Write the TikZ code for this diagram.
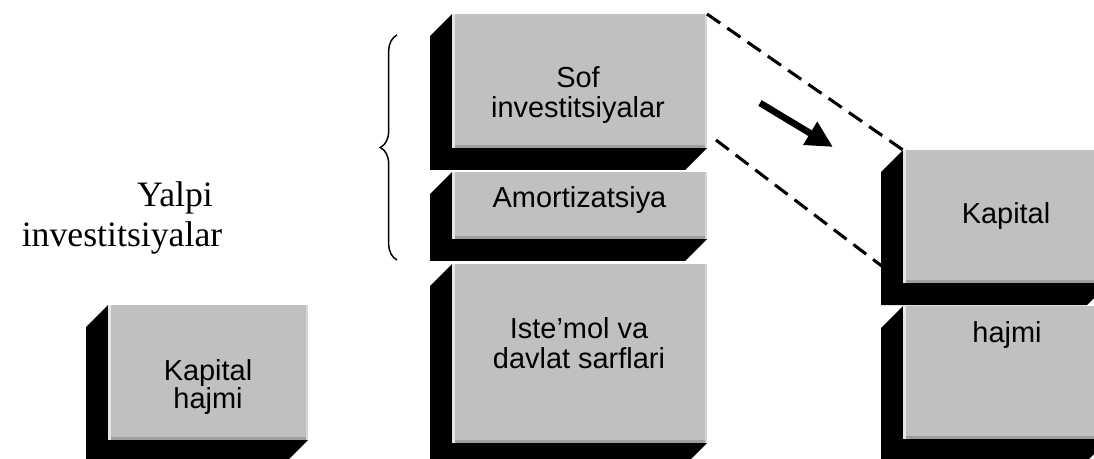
\documentclass[tikz,border=0pt]{standalone}
\usepackage{fontspec}
\setmainfont{Liberation Serif}
\newfontfamily\arialf{Liberation Sans}
\usetikzlibrary{calc,arrows.meta,decorations.pathreplacing}
\definecolor{facegray}{HTML}{C0C0C0}
\definecolor{edgelight}{HTML}{E6E6E6}
\definecolor{edgeright}{HTML}{D6D6D6}
\definecolor{edgedark}{HTML}{9E9E9E}
\newcommand\bevbox[1]{%
  \fill[black] (#1.north west) -- ++(-22,22) -- ($(#1.south west)+(-22,22)$)
     -- ($(#1.south east)+(-22,22)$) -- (#1.south east) -- cycle;
  \fill[facegray] (#1.south west) rectangle (#1.north east);
  \fill[edgelight] (#1.north west) rectangle ($(#1.south west)+(3,0)$);
  \fill[edgeright] (#1.north east) rectangle ($(#1.south east)+(-2,0)$);
  \fill[edgedark] ($(#1.south west)+(3,0)$) rectangle ($(#1.south east)+(-2,-3)$);
}
\tikzset{
  boxshape/.style={rectangle,inner sep=0pt,outer sep=0pt},
  boxtext/.style={font=\arialf\fontsize{21.7}{26}\selectfont,anchor=base,inner sep=0pt},
  sidetext/.style={font=\fontsize{26.8}{31}\selectfont,anchor=base,inner sep=0pt},
  dashline/.style={line width=2.3pt,dash pattern=on 12pt off 6.5pt},
  bigarrow/.style={line width=5pt,-{Triangle[length=20pt,width=19pt]}},
}
\begin{document}
\begin{tikzpicture}[x=0.75pt,y=-0.75pt]
\useasboundingbox (0,0) rectangle (1094,459);
\clip (0,0) rectangle (1094,459);
% box frames
\path node[boxshape,minimum width=150pt,minimum height=101.25pt] (kl) at (208,372.5) {};
\path node[boxshape,minimum width=191.25pt,minimum height=100.5pt] (sof) at (579.5,81) {};
\path node[boxshape,minimum width=191.25pt,minimum height=50.25pt] (amo) at (579.5,205.5) {};
\path node[boxshape,minimum width=191.25pt,minimum height=134.25pt] (ist) at (579.5,353.5) {};
\path node[boxshape,minimum width=154.5pt,minimum height=99.75pt] (kap) at (1006,216.5) {};
\path node[boxshape,minimum width=154.5pt,minimum height=99.75pt] (haj) at (1006,372.5) {};
\bevbox{kl}
\bevbox{sof}
\bevbox{amo}
\bevbox{ist}
\bevbox{kap}
\bevbox{haj}
% box texts
\node[boxtext] (klA) at (208,380) {Kapital};
\node[boxtext] (klB) at (208,408) {hajmi};
\node[boxtext] (sofA) at (578,88) {Sof};
\node[boxtext] (sofB) at (578,118) {investitsiyalar};
\node[boxtext] (amoA) at (579.5,208) {Amortizatsiya};
\node[boxtext] (istA) at (579,338) {Iste’mol va};
\node[boxtext] (istB) at (579,368) {davlat sarflari};
\node[boxtext] (kapA) at (1006,224) {Kapital};
\node[boxtext] (hajA) at (1007,342) {hajmi};
% side label
\node[sidetext] (yal1) at (175,207) {Yalpi};
\node[sidetext] (yal2) at (122,247) {investitsiyalar};
% brace
\coordinate (brB) at (397,260);
\coordinate (brT) at (397,35);
\draw[line width=1.1pt,decorate,decoration={brace,amplitude=12.5pt}] (brB) -- (brT);
% dashed lines
\coordinate (lo1) at (716,140);
\coordinate (lo2) at (883,267);
\draw[dashline] (sof.north east) -- (kap.north west);
\draw[dashline] (lo1) -- (lo2);
% arrow
\coordinate (a1) at (760,103);
\coordinate (a2) at (833,147);
\draw[bigarrow] (a1) -- (a2);
\end{tikzpicture}
\end{document}
